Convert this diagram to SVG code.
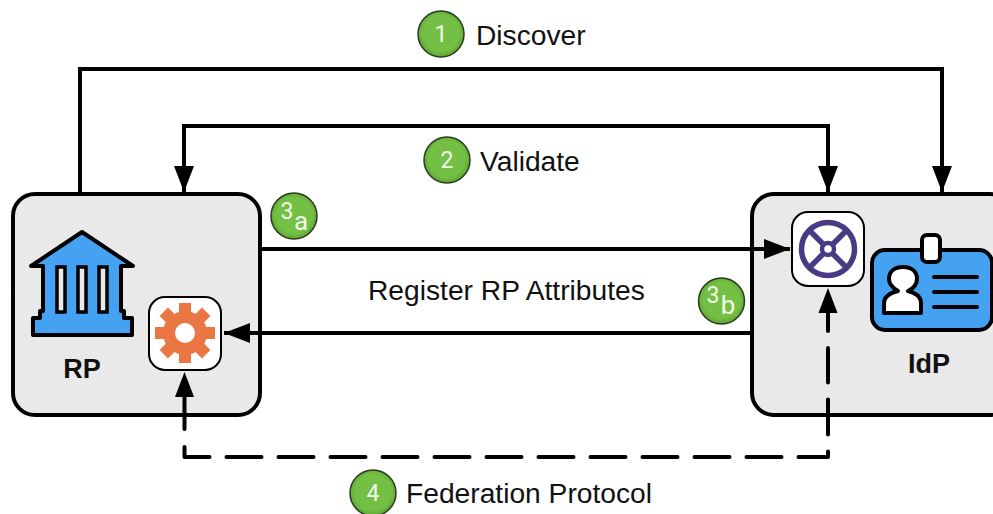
<svg xmlns="http://www.w3.org/2000/svg" width="993" height="514" viewBox="0 0 993 514">
<defs>
<radialGradient id="g" cx="50%" cy="48%" r="52%"><stop offset="0.75" stop-color="#74c045"/><stop offset="1" stop-color="#5fa436"/></radialGradient>
<marker id="arr" markerUnits="userSpaceOnUse" markerWidth="28" markerHeight="24" refX="26" refY="10" orient="auto"><path d="M0 0L26 10L0 20Z" fill="#000"/></marker>
</defs>
<style>
text{font-family:"Helvetica Neue","Liberation Sans",Arial,sans-serif;fill:#111}
.lbl{font-size:28.200px}
.name{font-size:27px;font-weight:bold;text-anchor:middle}
.box{fill:#e9e9e9;stroke:#000;stroke-width:4}
.tile{fill:#fff;stroke:#000;stroke-width:2}
.conn{fill:none;stroke:#000;stroke-width:4}
.dash{stroke-dasharray:35 17;stroke-linecap:round;stroke-linejoin:round}
.badge{fill:url(#g);stroke:#2a3a20;stroke-width:1.500}
.num{fill:#f2fbea;font-size:23px;text-anchor:middle;font-family:Roboto,"Liberation Sans",sans-serif;font-weight:400}
.sub{font-size:26px}
.blue{fill:#45a1f2;stroke:#000;stroke-width:4;stroke-linejoin:round}
.wht{fill:#e9e9e9;stroke:#000;stroke-width:3.500}
</style>
<g id="box-rp"><rect class="box" x="13" y="194" width="247" height="221" rx="22"/></g>
<g id="box-idp"><rect class="box" x="752" y="194" width="260" height="221" rx="22"/></g>
<g id="connectors">
<path class="conn" d="M80 192V69H942V192" marker-end="url(#arr)"/>
<path class="conn" d="M184 192V126H828V192" marker-end="url(#arr)"/>
<path d="M174 166L184 192L194 166Z" fill="#000"/>
<path class="conn" d="M262 249H790" marker-end="url(#arr)"/>
<path class="conn" d="M750 333H224" marker-end="url(#arr)"/>
<path class="conn dash" d="M184.500 447V457H828V348"/>
<path class="conn" d="M184.500 390V429" stroke-linecap="round"/>
<path d="M175 397L184.500 372L194 397Z" fill="#000"/>
<path class="conn" d="M828 312V331" stroke-linecap="round"/>
<path d="M818.500 313L828 288L837.500 313Z" fill="#000"/>
</g>
<g id="rp">
<path class="blue" d="M82 232L133 266H121V311H124V318H132V335H33V318H40V311H43V266H31Z"/>
<rect class="wht" x="57" y="267" width="8" height="45"/><rect class="wht" x="78" y="267" width="8" height="45"/><rect class="wht" x="99" y="267" width="8" height="45"/>
<text class="name" x="82" y="378">RP</text>
</g>
<g id="gear">
<rect class="tile" x="149" y="297" width="72" height="73" rx="16"/>
<g transform="translate(185 333)" fill="#ea7643">
<circle r="22"/>
<rect x="-6" y="-30" width="12" height="60"/>
<rect x="-30" y="-6" width="60" height="12"/>
<rect x="-6" y="-30" width="12" height="60" transform="rotate(45)"/>
<rect x="-6" y="-30" width="12" height="60" transform="rotate(-45)"/>
<circle r="10" fill="#fff"/>
</g>
</g>
<g id="wheel">
<rect class="tile" x="792" y="212" width="72" height="74" rx="16"/>
<g transform="translate(828 249)" fill="none" stroke="#4a3a85" stroke-width="5.500">
<circle r="26.500"/><circle r="6" stroke-width="4.500"/>
<path d="M-19 -19L-5 -5M19 -19L5 -5M-19 19L-5 5M19 19L5 5"/>
</g>
</g>
<g id="idp">
<rect class="blue" x="872" y="250" width="120" height="80" rx="13"/>
<rect x="922" y="235" width="18" height="27" rx="5" fill="#fff" stroke="#000" stroke-width="4"/>
<path d="M884 313V303C884 296 890 293 898 291C891 287 889 282 889 279C889 271 895 267 903 267C911 267 917 271 917 279C917 283 914 288 908 291C916 293 921 296 921 303V313Z" fill="#fff" stroke="#000" stroke-width="4" stroke-linejoin="round"/>
<path d="M934 277H977M934 292H977M934 307H977" stroke="#000" stroke-width="4" stroke-linecap="round"/>
<text class="name" x="929" y="373">IdP</text>
</g>
<g id="step1"><circle class="badge" cx="441" cy="34" r="23"/><text class="num" x="441" y="42">1</text><text class="lbl" x="476" y="45">Discover</text></g>
<g id="step2"><circle class="badge" cx="447" cy="160" r="23"/><text class="num" x="447" y="168">2</text><text class="lbl" x="480" y="171">Validate</text></g>
<g id="step3a"><circle class="badge" cx="294" cy="216" r="23"/><text class="num" x="287" y="219">3</text><text class="num sub" x="301" y="230">a</text></g>
<g id="step3b"><circle class="badge" cx="721.500" cy="301" r="23"/><text class="num" x="713" y="303">3</text><text class="num sub" x="728" y="314">b</text></g>
<g id="step4"><circle class="badge" cx="373" cy="493" r="23"/><text class="num" x="373" y="501">4</text><text class="lbl" x="406" y="503">Federation Protocol</text></g>
<g id="label-register"><text class="lbl" x="368" y="300">Register RP Attributes</text></g>
</svg>
